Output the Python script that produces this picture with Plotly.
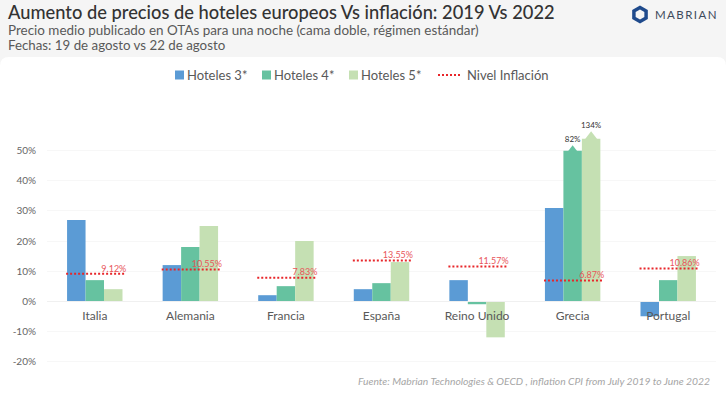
import plotly.graph_objects as go

W, H = 726, 393
L, R, T, B = 47, 10, 92, 9
Y_MIN, Y_MAX = -27.5, 69.5

categories = ["Italia", "Alemania", "Francia", "España", "Reino Unido", "Grecia", "Portugal"]
hoteles_3 = [27, 12, 2, 4, 7, 31, -5]
hoteles_4 = [7, 18, 5, 6, -1, 50, 7]
hoteles_5 = [4, 25, 20, 13, -12, 54, 15]
inflacion = [9.12, 10.55, 7.83, 13.55, 11.57, 6.87, 10.86]
grecia_idx = 5
grecia_truncados = [50, 54]
grecia_etiquetas = ["82%", "134%"]
y_ticks = [-20, -10, 0, 10, 20, 30, 40, 50]

FONT = "Lato"
BLUE, GREEN, PALE, RED = "#5b9bd5", "#66c2a0", "#c5e0b3", "#e8262a"

def px(x):
    return (x - L) / (W - L - R)

def py(y):
    return 1 - (y - T) / (H - T - B)

xs = list(range(len(categories)))
BARGAP = 0.42
BW = (1 - BARGAP) / 3

fig = go.Figure()
for name, vals, col in [("Hoteles 3*", hoteles_3, BLUE), ("Hoteles 4*", hoteles_4, GREEN), ("Hoteles 5*", hoteles_5, PALE)]:
    fig.add_bar(x=xs, y=vals, name=name, marker=dict(color=col, line_width=0), showlegend=False)

lx, ly = [], []
for i, v in zip(xs, inflacion):
    lx += [i - 0.30, i + 0.32, None]
    ly += [v, v, None]
fig.add_scatter(x=lx, y=ly, mode="lines", name="Nivel Inflación", showlegend=False,
                line=dict(color=RED, width=2, dash="2px 2px"))
fig.add_scatter(x=[i + 0.33 for i in xs], y=inflacion, mode="text", showlegend=False, hoverinfo="skip",
                text=[f"{v:.2f}%" for v in inflacion], textposition="top left",
                textfont=dict(family=FONT, size=9, color="#e8555a"))

for k, (col, v, lab, size, lift) in enumerate(zip([GREEN, PALE], grecia_truncados, grecia_etiquetas, [11, 15], [2.2, 3])):
    gx = grecia_idx + BW * k
    fig.add_scatter(x=[gx], y=[v], mode="markers", showlegend=False, hoverinfo="skip",
                    marker=dict(symbol="triangle-up", size=size, color=col, line_width=0))
    fig.add_scatter(x=[gx], y=[v + lift], mode="text", showlegend=False, hoverinfo="skip",
                    text=[lab], textposition="top center",
                    textfont=dict(family=FONT, size=8, color="#333333"))

def hexagon(cx, cy, r, fill):
    pts = [(cx, cy - r), (cx + .87 * r, cy - r / 2), (cx + .87 * r, cy + r / 2),
           (cx, cy + r), (cx - .87 * r, cy + r / 2), (cx - .87 * r, cy - r / 2)]
    path = " ".join(f"{c} {px(a)},{py(b)}" for c, (a, b) in zip("MLLLLL", pts)) + " Z"
    return dict(type="path", xref="paper", yref="paper", line_width=0, fillcolor=fill, path=path)

def swatch(x0, col):
    return dict(type="rect", xref="paper", yref="paper", line_width=0, fillcolor=col,
                x0=px(x0), x1=px(x0 + 9), y0=py(79.5), y1=py(70.5))

fig.update_layout(
    width=W, height=H, autosize=False,
    margin=dict(l=L, r=R, t=T, b=B),
    paper_bgcolor="#f5f5f5", plot_bgcolor="rgba(0,0,0,0)",
    barmode="group", bargap=BARGAP, bargroupgap=0,
    font=dict(family=FONT, color="#595959"),
    showlegend=False,
    xaxis=dict(range=[-0.5, 6.5], tickmode="array", tickvals=xs, ticktext=categories,
               anchor="free", position=(0 - Y_MIN) / (Y_MAX - Y_MIN),
               showgrid=False, showline=True, linecolor="#f0f0f0", zeroline=False,
               ticks="outside", ticklen=3, tickcolor="rgba(0,0,0,0)",
               tickfont=dict(family=FONT, size=12, color="#595959")),
    yaxis=dict(range=[Y_MIN, Y_MAX], tickmode="array", tickvals=y_ticks,
               ticktext=[f"{v}%" for v in y_ticks], showgrid=True, gridcolor="#f7f7f7", zeroline=False,
               ticks="outside", ticklen=8, tickcolor="rgba(0,0,0,0)",
               tickfont=dict(family=FONT, size=10, color="#666666")),
    shapes=[
        dict(type="path", xref="paper", yref="paper", layer="below", line_width=0, fillcolor="#ffffff",
             path=f"M {px(0)},{py(400)} L {px(0)},{py(66)} Q {px(0)},{py(57)} {px(9)},{py(57)} "
                  f"L {px(717)},{py(57)} Q {px(726)},{py(57)} {px(726)},{py(66)} L {px(726)},{py(400)} Z"),
        hexagon(640, 14.5, 9, "#1f4a8c"),
        hexagon(640, 14.5, 5, "#f5f5f5"),
        swatch(175, BLUE), swatch(262, GREEN), swatch(349, PALE),
        dict(type="line", xref="paper", yref="paper", x0=px(438), x1=px(462), y0=py(75), y1=py(75),
             line=dict(color=RED, width=2, dash="2px 2px")),
    ],
)

def note(text, x, y, size, color, anchor="left", **font):
    fig.add_annotation(text=text, xref="paper", yref="paper", x=px(x), y=py(y), xanchor=anchor, yanchor="middle",
                       showarrow=False, borderpad=0, font=dict(family=FONT, size=size, color=color, **font))

note("Aumento de precios de hoteles europeos Vs inflación: 2019 Vs 2022", 7, 11.5, 18.3, "#333333", weight=500)
note("Precio medio publicado en OTAs para una noche (cama doble, régimen estándar)", 7, 30, 13.45, "#595959")
note("Fechas: 19 de agosto vs 22 de agosto", 7, 45, 13.3, "#595959")
note("M\u2009A\u2009B\u2009R\u2009I\u2009A\u2009N", 654, 15, 11.5, "#3d4a5c")
for label, x in [("Hoteles 3*", 186), ("Hoteles 4*", 273), ("Hoteles 5*", 360), ("Nivel Inflación", 466)]:
    note(label, x, 75, 13, "#595959")
note("Fuente: Mabrian Technologies & OECD , inflation CPI from July 2019 to June 2022", 711, 381, 10.3, "#a6a6a6", anchor="right", style="italic")

fig.write_html("out.html", config={"displayModeBar": False}, post_script="document.body.style.margin='0';")
